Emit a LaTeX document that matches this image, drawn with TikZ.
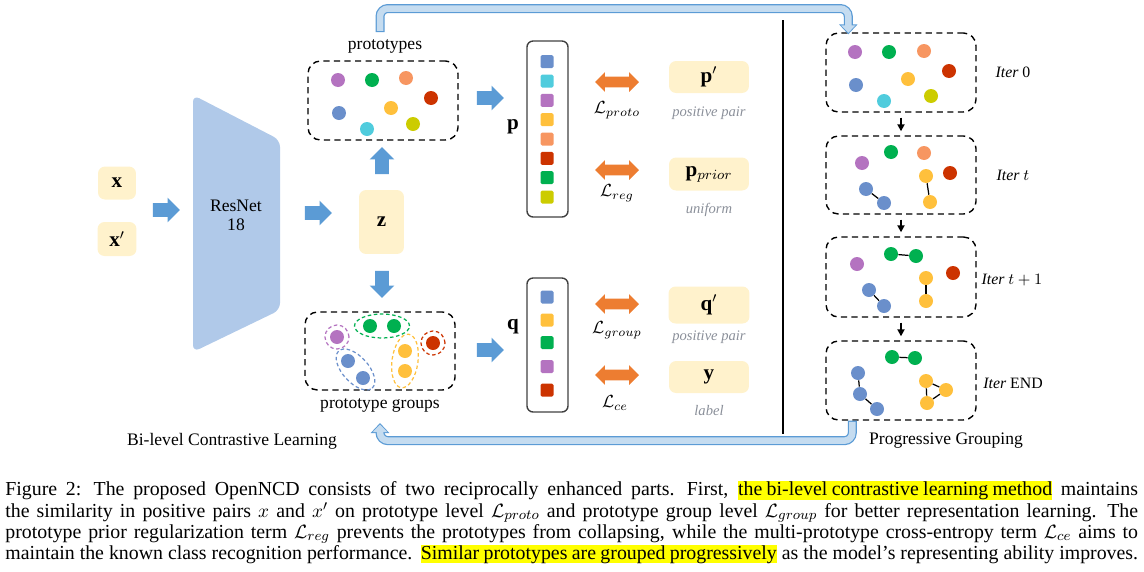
\documentclass[tikz,border=0pt]{standalone}
\usepackage{amsmath}
\usepackage{fontspec}
\setmainfont{Liberation Serif}
\usepackage{tikz}
\usetikzlibrary{positioning, calc}
\usetikzlibrary{arrows.meta}
\usetikzlibrary{shapes,arrows}
\usepackage{xcolor}

\definecolor{cpurple}{HTML}{B473C0}
\definecolor{cgreen}{HTML}{00B050}
\definecolor{corange}{HTML}{F79661}
\definecolor{cred}{HTML}{CC3300}
\definecolor{cblue}{HTML}{6A8FCB}
\definecolor{cyellow}{HTML}{FFC03C}
\definecolor{ccyan}{HTML}{50CCDD}
\definecolor{colive}{HTML}{CCCC00}
\definecolor{boxyellow}{HTML}{FFF2CC}
\definecolor{netblue}{HTML}{B0C9E9}
\definecolor{arrblue}{HTML}{5B9BD5}
\definecolor{arrorange}{HTML}{ED7D31}
\definecolor{fbfill}{HTML}{C5DCF0}
\definecolor{fbedge}{HTML}{5B9BD5}
\definecolor{notegray}{HTML}{8A8F99}
\definecolor{hlyellow}{HTML}{FFFF00}

\newcommand{\hlt}[1]{{\setlength{\fboxsep}{0pt}\colorbox{hlyellow}{\rule[-1.9pt]{0pt}{10.2pt}#1}}}

\begin{document}
\begin{tikzpicture}[x=0.02cm,y=-0.02cm]
	\def \iterx{901}
	\def \notex{709}
	\def \lossx{617}
	\def \vecx{547}
	\tikzstyle{c-node}=[circle,inner sep=0pt,minimum size=0.28cm]
	\tikzstyle{s-node}=[rectangle,rounded corners=0.03cm,inner sep=0pt,minimum size=0.26cm]
	\tikzstyle{y-box}=[rectangle,rounded corners=0.14cm,fill=boxyellow,inner sep=0pt]
	\tikzstyle{g-box}=[rectangle,rounded corners=0.25cm,draw=black,line width=0.8pt,dash pattern=on 3.5pt off 2.5pt,inner sep=0pt,minimum width=3cm,minimum height=1.58cm]
	\tikzstyle{g-ring}=[line width=0.7pt,dash pattern=on 2pt off 1.5pt]
	\tikzstyle{v-box}=[rectangle,rounded corners=0.12cm,draw=black!75,line width=0.8pt,inner sep=0pt,minimum width=0.82cm]
	\tikzstyle{b-arrow}=[single arrow,fill=arrblue,inner sep=0.13cm,single arrow head extend=0.11cm,minimum height=0.54cm]
	\tikzstyle{o-arrow}=[double arrow,fill=arrorange,inner sep=0.1cm,double arrow head extend=0.09cm,minimum height=0.88cm]
	\tikzstyle{note}=[text=notegray,font=\fontsize{8.3}{10}\selectfont\itshape]
	\tikzstyle{iter}=[font=\small]
	\tikzstyle{link}=[line width=0.7pt]
	\tikzstyle{fb-out}=[draw=fbedge,line width=0.18cm,rounded corners=0.16cm,-{Triangle[length=0.2cm,width=0.36cm]}]
	\tikzstyle{fb-in}=[draw=fbfill,line width=0.13cm,rounded corners=0.16cm,shorten <=0.025cm,shorten >=0.03cm,-{Triangle[length=0.15cm,width=0.28cm]}]
	\useasboundingbox (0,0) rectangle (1144,572);

	% inputs and backbone
	\node[y-box,minimum width=0.76cm,minimum height=0.66cm] 	(x1)	at (117,183)	{\large$\mathbf{x}$};
	\node[y-box,minimum width=0.78cm,minimum height=0.68cm] 	(x2)	at (117,239)	{\large$\mathbf{x}'$};
	\node[b-arrow] 	(a-in)	at (163,210)	{};
	\fill[netblue,rounded corners=0.14cm] (193,95) -- (280,140) -- (280,310) -- (193,352) -- cycle;
	\node[align=center,font=\fontsize{10}{11}\selectfont] 	(resnet)	at (236,215)	{ResNet\\18};
	\node[b-arrow] 	(a-net)	at (315,213)	{};
	\node[y-box,minimum width=0.9cm,minimum height=1.28cm] 	(z)	at (381.5,222)	{\large$\mathbf{z}$};
	\node[b-arrow,rotate=90] 	(a-up)	at (382,164)	{};
	\node[b-arrow,rotate=-90] 	(a-down)	at (382,281)	{};

	% prototypes
	\node[g-box] 	(protos)	at (383,100.5)	{};
	\node 	(protolabel)	at (385,46)	{prototypes};
	\node[c-node,fill=cpurple] 	(pt1)	at (338,80)	{};
	\node[c-node,fill=cgreen] 	(pt2)	at (372,80)	{};
	\node[c-node,fill=corange] 	(pt3)	at (406,78)	{};
	\node[c-node,fill=cred] 	(pt4)	at (431,98)	{};
	\node[c-node,fill=cblue] 	(pt5)	at (339,113)	{};
	\node[c-node,fill=cyellow] 	(pt6)	at (391,108)	{};
	\node[c-node,fill=ccyan] 	(pt7)	at (367,129)	{};
	\node[c-node,fill=colive] 	(pt8)	at (413,124)	{};

	% prototype groups
	\node[g-box,minimum height=1.56cm] 	(groups)	at (380,351)	{};
	\node 	(grouplabel)	at (380,405)	{prototype groups};
	\node[c-node,fill=cpurple] 	(gr1)	at (337,337)	{};
	\node[c-node,fill=cgreen] 	(gr2)	at (370,326)	{};
	\node[c-node,fill=cgreen] 	(gr3)	at (394,326)	{};
	\node[c-node,fill=cred] 	(gr4)	at (433,343)	{};
	\node[c-node,fill=cyellow] 	(gr5)	at (405,351)	{};
	\node[c-node,fill=cyellow] 	(gr6)	at (405,371)	{};
	\node[c-node,fill=cblue] 	(gr7)	at (348,361)	{};
	\node[c-node,fill=cblue] 	(gr8)	at (363,378)	{};
	\coordinate (gg) at ($(gr2)!0.5!(gr3)$);
	\coordinate (gy) at ($(gr5)!0.5!(gr6)$);
	\coordinate (gb) at ($(gr7)!0.5!(gr8)$);
	\draw[g-ring,draw=cpurple] (gr1) circle [radius=0.24cm];
	\draw[g-ring,draw=cred] (gr4) circle [radius=0.24cm];
	\draw[g-ring,draw=cgreen] (gg) ellipse [x radius=0.55cm,y radius=0.24cm];
	\draw[g-ring,draw=cyellow,rotate around={-8:(gy)}] (gy) ellipse [x radius=0.26cm,y radius=0.54cm];
	\draw[g-ring,draw=cblue,rotate around={-48:(gb)}] (gb) ellipse [x radius=0.5cm,y radius=0.26cm];

	\node[b-arrow] 	(a-p)	at (487,98)	{};
	\node[b-arrow] 	(a-q)	at (487,350)	{};

	% prototype vector p
	\node[v-box,minimum height=3.52cm] 	(pvec)	at (547.5,129)	{};
	\node 	(plabel)	at (513,127)	{\large$\mathbf{p}$};
	\node[s-node,fill=cblue] 	(p1)	at (\vecx,61.7)	{};
	\node[s-node,fill=ccyan] 	(p2)	at (\vecx,81)	{};
	\node[s-node,fill=cpurple] 	(p3)	at (\vecx,100.3)	{};
	\node[s-node,fill=cyellow] 	(p4)	at (\vecx,119.7)	{};
	\node[s-node,fill=corange] 	(p5)	at (\vecx,139)	{};
	\node[s-node,fill=cred] 	(p6)	at (\vecx,158.3)	{};
	\node[s-node,fill=cgreen] 	(p7)	at (\vecx,177.7)	{};
	\node[s-node,fill=colive] 	(p8)	at (\vecx,197)	{};

	% group vector q
	\node[v-box,minimum height=2.68cm] 	(qvec)	at (547.5,345)	{};
	\node 	(qlabel)	at (513,327)	{\large$\mathbf{q}$};
	\node[s-node,fill=cblue] 	(q1)	at (\vecx,297)	{};
	\node[s-node,fill=cyellow] 	(q2)	at (\vecx,320)	{};
	\node[s-node,fill=cgreen] 	(q3)	at (\vecx,342.5)	{};
	\node[s-node,fill=cpurple] 	(q4)	at (\vecx,366.5)	{};
	\node[s-node,fill=cred] 	(q5)	at (\vecx,390)	{};

	% losses
	\node[o-arrow] 	(l-proto)	at (\lossx,82)	{};
	\node[o-arrow] 	(l-reg)	at (\lossx,170)	{};
	\node[o-arrow] 	(l-group)	at (\lossx,304)	{};
	\node[o-arrow] 	(l-ce)	at (\lossx,375)	{};
	\node 	(t-proto)	at (\lossx,110)	{$\mathcal{L}_{proto}$};
	\node 	(t-reg)	at (\lossx,193)	{$\mathcal{L}_{reg}$};
	\node 	(t-group)	at (\lossx,330)	{$\mathcal{L}_{group}$};
	\node 	(t-ce)	at (615,403)	{$\mathcal{L}_{ce}$};

	% targets
	\node[y-box,minimum width=1.6cm,minimum height=0.64cm] 	(pp)	at (\notex,77)	{\large$\mathbf{p}'$};
	\node[y-box,minimum width=1.6cm,minimum height=0.66cm] 	(pprior)	at (\notex,174)	{\large$\mathbf{p}_{prior}$};
	\node[y-box,minimum width=1.62cm,minimum height=0.74cm] 	(qq)	at (\notex,305)	{\large$\mathbf{q}'$};
	\node[y-box,minimum width=1.6cm,minimum height=0.64cm] 	(yy)	at (\notex,377)	{\large$\mathbf{y}$};
	\node[note] 	(n-pp)	at (\notex,113)	{positive pair};
	\node[note] 	(n-prior)	at (\notex,210)	{uniform};
	\node[note] 	(n-qq)	at (\notex,337)	{positive pair};
	\node[note] 	(n-yy)	at (\notex,411)	{label};

	\draw[line width=0.8pt] (783,20) -- (783,434);

	% progressive grouping
	\node[g-box] 	(iter0)	at (\iterx,72.5)	{};
	\node[g-box,minimum height=1.56cm] 	(itert)	at (\iterx,175)	{};
	\node[g-box,minimum height=1.6cm] 	(itert1)	at (\iterx,277)	{};
	\node[g-box] 	(iterend)	at (\iterx,380.5)	{};
	\node[iter] 	(n-iter0)	at (1013,72)	{\textit{Iter} 0};
	\node[iter] 	(n-itert)	at (1013,175)	{\textit{Iter} $t$};
	\node[iter] 	(n-itert1)	at (1012,280)	{\textit{Iter} $t+1$};
	\node[iter] 	(n-iterend)	at (1013,383)	{\textit{Iter} END};

	\node[c-node,fill=cpurple] 	(a1)	at (855,52)	{};
	\node[c-node,fill=cgreen] 	(a2)	at (889,52)	{};
	\node[c-node,fill=corange] 	(a3)	at (924,51)	{};
	\node[c-node,fill=cred] 	(a4)	at (949,71)	{};
	\node[c-node,fill=cblue] 	(a5)	at (856,85)	{};
	\node[c-node,fill=cyellow] 	(a6)	at (908,79)	{};
	\node[c-node,fill=ccyan] 	(a7)	at (884,101)	{};
	\node[c-node,fill=colive] 	(a8)	at (931,96)	{};

	\node[c-node,fill=cgreen] 	(b1)	at (891,152)	{};
	\node[c-node,fill=corange] 	(b2)	at (924,153)	{};
	\node[c-node,fill=cpurple] 	(b3)	at (862,163)	{};
	\node[c-node,fill=cyellow] 	(b4)	at (926,176)	{};
	\node[c-node,fill=cred] 	(b5)	at (950,173)	{};
	\node[c-node,fill=cblue] 	(b6)	at (866,189)	{};
	\node[c-node,fill=cblue] 	(b7)	at (884,203)	{};
	\node[c-node,fill=cyellow] 	(b8)	at (930,202)	{};

	\node[c-node,fill=cgreen] 	(c1)	at (891,254)	{};
	\node[c-node,fill=cgreen] 	(c2)	at (916,256)	{};
	\node[c-node,fill=cpurple] 	(c3)	at (857,264)	{};
	\node[c-node,fill=cyellow] 	(c4)	at (926,278)	{};
	\node[c-node,fill=cred] 	(c5)	at (953,273)	{};
	\node[c-node,fill=cblue] 	(c6)	at (869,290)	{};
	\node[c-node,fill=cblue] 	(c7)	at (884,306)	{};
	\node[c-node,fill=cyellow] 	(c8)	at (926,301)	{};

	\node[c-node,fill=cgreen] 	(d1)	at (892,357)	{};
	\node[c-node,fill=cgreen] 	(d2)	at (915,358)	{};
	\node[c-node,fill=cblue] 	(d3)	at (858,373)	{};
	\node[c-node,fill=cblue] 	(d4)	at (860,394)	{};
	\node[c-node,fill=cblue] 	(d5)	at (877,409)	{};
	\node[c-node,fill=cyellow] 	(d6)	at (926,381)	{};
	\node[c-node,fill=cyellow] 	(d7)	at (946,390)	{};
	\node[c-node,fill=cyellow] 	(d8)	at (927,403)	{};

	\path[link]
		(b6)	edge	(b7)
		(b4)	edge	(b8)
		(c1)	edge	(c2)
		(c6)	edge	(c7)
		(c4)	edge	(c8)
		(d1)	edge	(d2)
		(d3)	edge	(d4)
		(d4)	edge	(d5)
		(d6)	edge	(d7)
		(d7)	edge	(d8)
		(d8)	edge	(d6);

	\draw[line width=1pt,shorten <=0.1cm,shorten >=0.08cm,-{Triangle[length=0.14cm,width=0.14cm]}] (iter0.south) -- (itert.north);
	\draw[line width=1pt,shorten <=0.1cm,shorten >=0.08cm,-{Triangle[length=0.14cm,width=0.14cm]}] (itert.south) -- (itert1.north);
	\draw[line width=1pt,shorten <=0.1cm,shorten >=0.08cm,-{Triangle[length=0.14cm,width=0.14cm]}] (itert1.south) -- (iterend.north);

	% feedback arrows
	\coordinate (fbtop-s) at (380,32);
	\coordinate (fbtop-e) at ($(iter0.north west)+(23,2)$);
	\coordinate (fbbot-s) at ($(iterend.south west)+(27,0)$);
	\coordinate (fbbot-e) at (380,423);
	\draw[fb-out] (fbtop-s) -- ++(0,-23.5) -| (fbtop-e);
	\draw[fb-in] (fbtop-s) -- ++(0,-23.5) -| (fbtop-e);
	\draw[fb-out] (fbbot-s) -- ++(0,20) -| (fbbot-e);
	\draw[fb-in] (fbbot-s) -- ++(0,20) -| (fbbot-e);

	\node 	(left-title)	at (232,441)	{Bi-level Contrastive Learning};
	\node 	(right-title)	at (946,441)	{Progressive Grouping};

	% caption
	\node[anchor=north west,inner sep=0pt,text width=22.66cm,align=justify,font=\fontsize{11.3}{12}\selectfont] 	(caption)	at (5,481)	{\hyphenpenalty=10000\parfillskip=0pt
		\spaceskip=0.22em plus 0.2em minus 0.1em\xspaceskip=0.4em plus 0.2em minus 0.1em
		Figure 2: The proposed OpenNCD consists of two reciprocally enhanced parts. First, \hlt{the bi-level contrastive learning method} maintains\linebreak
		the similarity in positive pairs $x$ and $x'$ on prototype level $\mathcal{L}_{proto}$ and prototype group level $\mathcal{L}_{group}$ for better representation learning. The\linebreak
		prototype prior regularization term $\mathcal{L}_{reg}$ prevents the prototypes from collapsing, while the multi-prototype cross-entropy term $\mathcal{L}_{ce}$ aims to\linebreak
		maintain the known class recognition performance. \hlt{Similar prototypes are grouped progressively} as the model's representing ability improves.\par};
\end{tikzpicture}
\end{document}
